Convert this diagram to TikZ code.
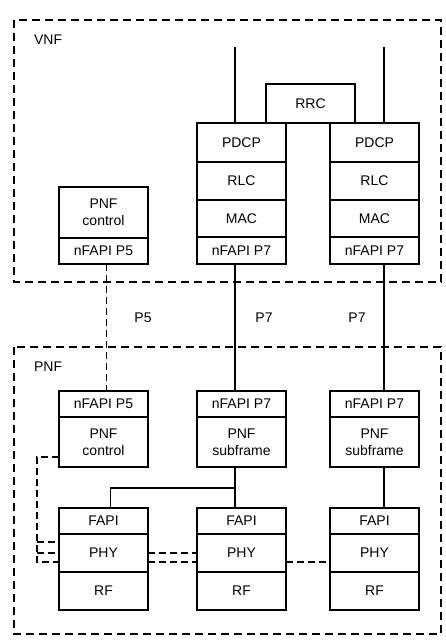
\documentclass[tikz,border=0pt]{standalone}
\usepackage{fontspec}
\setmainfont{Liberation Sans}
\usetikzlibrary{positioning}

\begin{document}
\begin{tikzpicture}[x=1pt, y=-1pt, line width=1.6pt,
  every node/.style = {font=\fontsize{14}{17}\selectfont, align=center},
  layer/.style = {draw, rectangle, minimum width=89pt, inner sep=0pt, outer sep=0pt},
  hdr/.style = {layer, minimum height=26pt},
  area/.style = {draw, dash pattern=on 8pt off 5pt},
  ctrl/.style = {dash pattern=on 7pt off 4pt}]
  \useasboundingbox (0,0) rectangle (446,643);

  % VNF side
  \draw[area] (14,20) rectangle (441,282);
  \node[anchor=west] (vnf) at (30,40) {VNF};
  \node[layer, minimum height=51pt, anchor=north west] (vctl) at (59,187) {PNF\\control};
  \node[hdr, below=0pt of vctl] (vp5) {nFAPI P5};
  \node[layer, minimum height=39pt, anchor=north west] (pdcpA) at (197,123) {PDCP};
  \node[layer, minimum height=38pt, below=0pt of pdcpA] (rlcA) {RLC};
  \node[layer, minimum height=37pt, below=0pt of rlcA] (macA) {MAC};
  \node[hdr, minimum height=27pt, below=0pt of macA] (vp7A) {nFAPI P7};
  \node[layer, minimum height=39pt, anchor=north west] (pdcpB) at (330,123) {PDCP};
  \node[layer, minimum height=38pt, below=0pt of pdcpB] (rlcB) {RLC};
  \node[layer, minimum height=37pt, below=0pt of rlcB] (macB) {MAC};
  \node[hdr, minimum height=27pt, below=0pt of macB] (vp7B) {nFAPI P7};
  \node[layer, minimum height=39pt, anchor=north west] (rrc) at (266,84) {RRC};
  \coordinate (upA) at (235,47);
  \coordinate (upB) at (384,47);
  \draw (upA) -- (upA |- pdcpA.north);
  \draw (upB) -- (upB |- pdcpB.north);

  % PNF side
  \draw[area] (14,347) rectangle (441,634);
  \node[anchor=west] (pnf) at (30,367) {PNF};
  \node[hdr, anchor=north west] (pp5) at (59,391) {nFAPI P5};
  \node[layer, minimum height=50pt, below=0pt of pp5] (pctl) {PNF\\control};
  \node[hdr, anchor=north west] (pp7A) at (197,391) {nFAPI P7};
  \node[layer, minimum height=50pt, below=0pt of pp7A] (sfA) {PNF\\subframe};
  \node[hdr, anchor=north west] (pp7B) at (330,391) {nFAPI P7};
  \node[layer, minimum height=50pt, below=0pt of pp7B] (sfB) {PNF\\subframe};
  \foreach \x/\n in {59/1, 197/2, 330/3} {
    \node[hdr, anchor=north west] (fapi\n) at (\x,508) {FAPI};
    \node[layer, minimum height=38pt, below=0pt of fapi\n] (phy\n) {PHY};
    \node[layer, minimum height=38pt, below=0pt of phy\n] (rf\n) {RF};
  }

  % interfaces
  \draw[ctrl] ([xshift=3pt]vp5.south) -- ([xshift=3pt]pp5.north);
  \draw (vp7A.south -| upA) -- (pp7A.north -| upA);
  \draw (vp7B.south -| upB) -- (pp7B.north -| upB);
  \node (p5) at (143,318) {P5};
  \node (p7A) at (264,318) {P7};
  \node (p7B) at (357,318) {P7};

  \draw (sfA.south -| upA) -- (fapi2.north -| upA);
  \draw (sfA.south -| upA) ++(0,21) -| ([xshift=7pt]fapi1.north);
  \draw (sfB.south -| upB) -- (fapi3.north -| upB);

  % control of the PHYs
  \coordinate (bus) at (37,457);
  \coordinate (c1) at ([yshift=11pt]phy1.west);
  \coordinate (c3) at ([yshift=-9pt]phy1.west);
  \draw[ctrl] ([yshift=-15pt]pctl.west) -- (bus) |- (c3);
  \draw[ctrl] (bus |- c1) -- (c1);
  \draw[ctrl] (bus |- phy1.west) -- (phy1.west);
  \draw[ctrl] (phy1.east) -- (phy2.west);
  \draw[ctrl] ([yshift=-9pt]phy1.east) -- ([yshift=-9pt]phy2.west);
  \draw[ctrl] ([yshift=-9pt]phy2.east) -- ([yshift=-9pt]phy3.west);
\end{tikzpicture}
\end{document}
